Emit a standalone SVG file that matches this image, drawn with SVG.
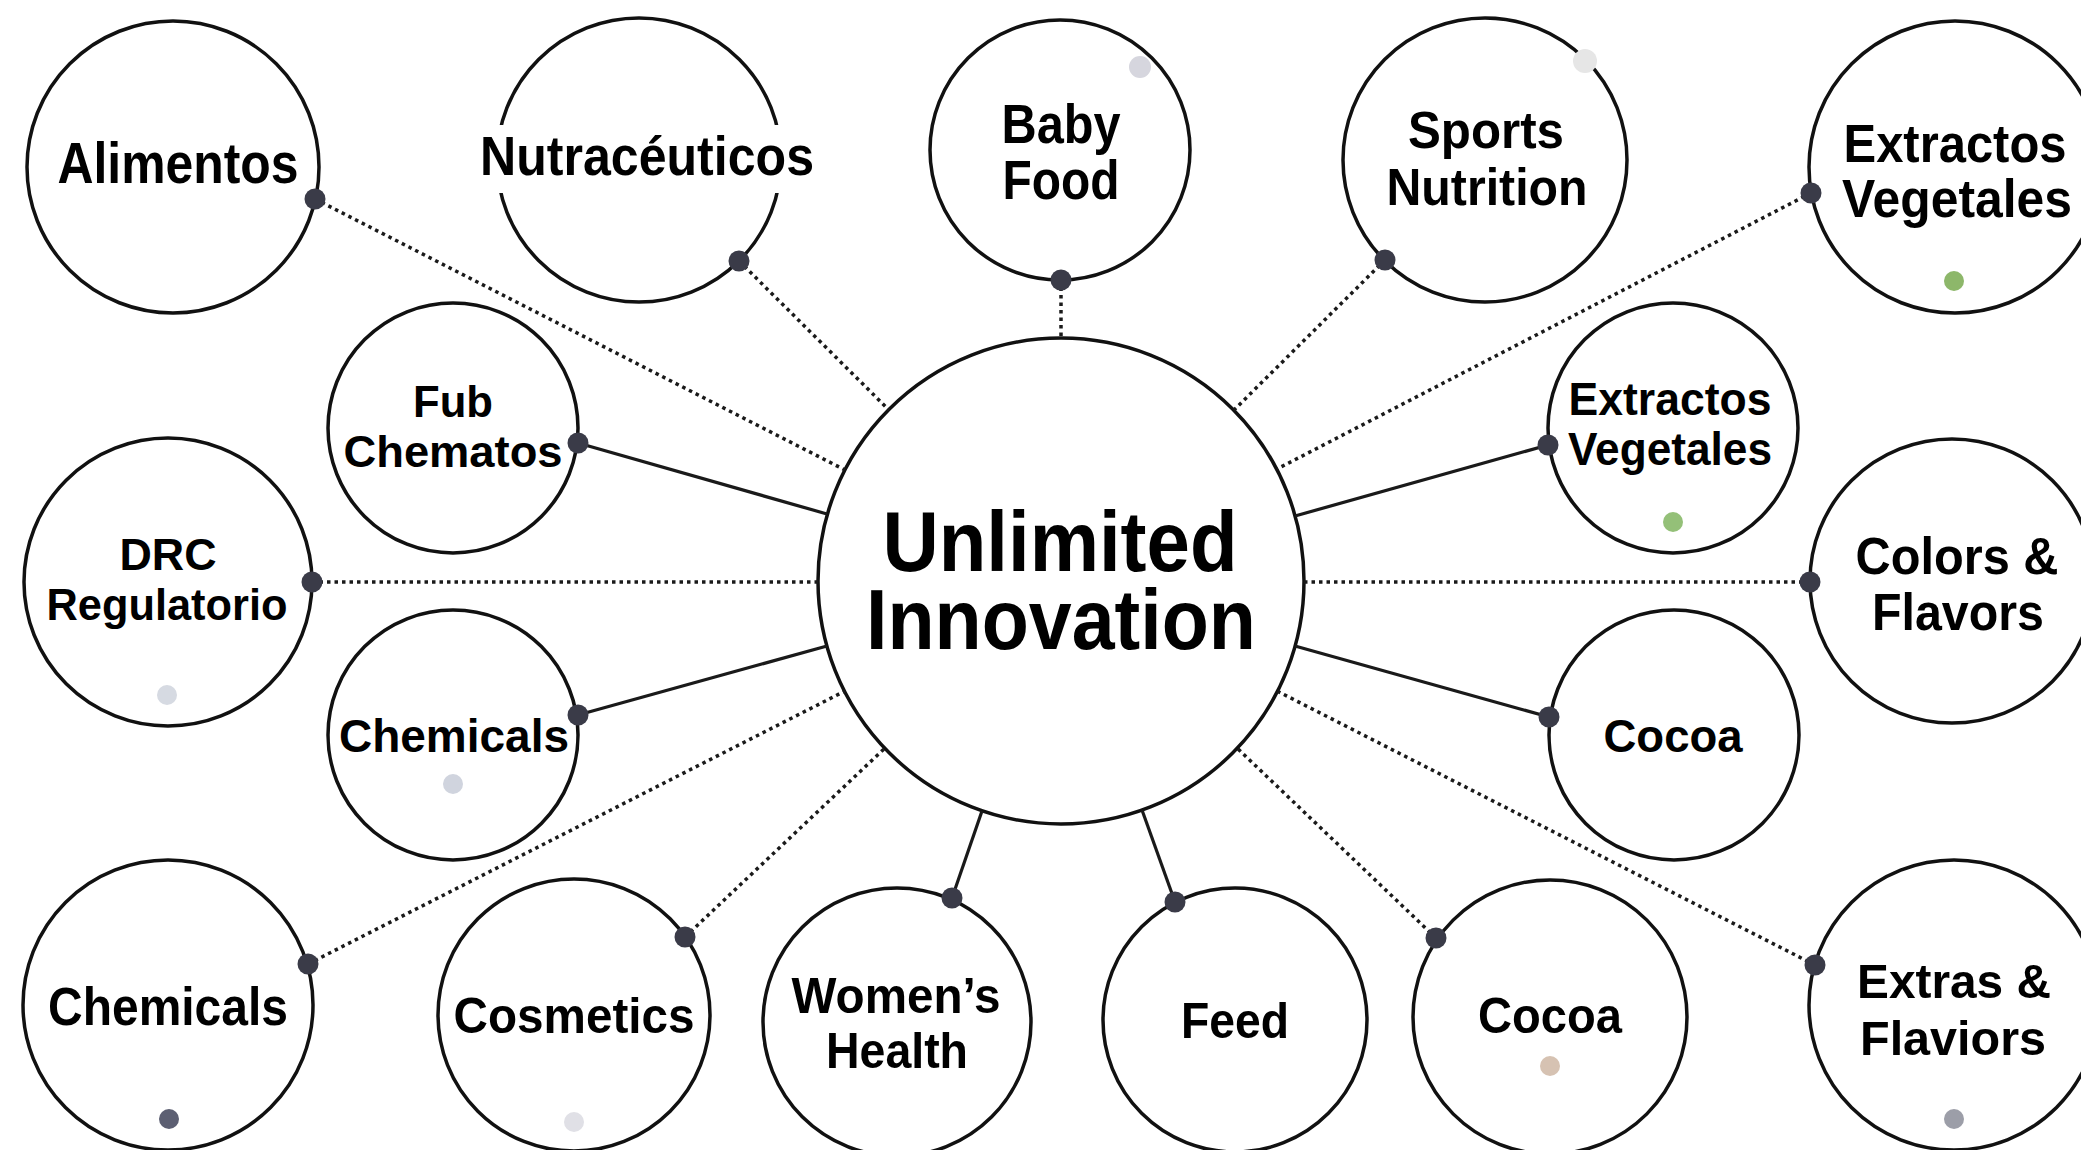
<svg xmlns="http://www.w3.org/2000/svg" width="2081" height="1150" viewBox="0 0 2081 1150">
<style>
.ring{fill:#fff;stroke:#111;stroke-width:3.5}
.lbl{font-family:"Liberation Sans",Arial,Helvetica,sans-serif;font-weight:bold;fill:#000;text-anchor:middle}
.dot{fill:#3a3b48}
.dash{stroke:#1a1a1a;stroke-width:3.5;stroke-dasharray:3.5 4;fill:none}
.solid{stroke:#1a1a1a;stroke-width:3.2;fill:none}
</style>
<rect width="2081" height="1150" fill="#fff"/>
<g id="nodes">
<g id="n-alimentos"><circle class="ring" cx="173" cy="167" r="146"/><text class="lbl" x="178" y="183" font-size="57" textLength="241" lengthAdjust="spacingAndGlyphs">Alimentos</text></g>
<g id="n-nutraceuticos"><circle class="ring" cx="639" cy="160" r="142"/><rect x="478" y="125" width="337" height="68" fill="#fff"/><text class="lbl" x="647" y="175" font-size="56" textLength="334" lengthAdjust="spacingAndGlyphs">Nutracéuticos</text></g>
<g id="n-babyfood"><circle class="ring" cx="1060" cy="150" r="130"/><circle cx="1140" cy="67" r="11" fill="#d6d6de"/><text class="lbl" font-size="56"><tspan x="1061" y="143" textLength="119" lengthAdjust="spacingAndGlyphs">Baby</tspan><tspan x="1061" y="199" textLength="117" lengthAdjust="spacingAndGlyphs">Food</tspan></text></g>
<g id="n-sports"><circle class="ring" cx="1485" cy="160" r="142"/><circle cx="1585" cy="61" r="12" fill="#e6e6e6"/><text class="lbl" font-size="52"><tspan x="1486" y="148" textLength="156" lengthAdjust="spacingAndGlyphs">Sports</tspan><tspan x="1487" y="205" textLength="201" lengthAdjust="spacingAndGlyphs">Nutrition</tspan></text></g>
<g id="n-extractos-top"><circle class="ring" cx="1955" cy="167" r="146"/><circle cx="1954" cy="281" r="10" fill="#8db76a"/><text class="lbl" font-size="54"><tspan x="1955" y="162" textLength="223" lengthAdjust="spacingAndGlyphs">Extractos</tspan><tspan x="1957" y="217" textLength="230" lengthAdjust="spacingAndGlyphs">Vegetales</tspan></text></g>
<g id="n-fub"><circle class="ring" cx="453" cy="428" r="125"/><text class="lbl" font-size="45"><tspan x="453" y="417" textLength="80" lengthAdjust="spacingAndGlyphs">Fub</tspan><tspan x="453" y="467" textLength="219" lengthAdjust="spacingAndGlyphs">Chematos</tspan></text></g>
<g id="n-drc"><circle class="ring" cx="168" cy="582" r="144"/><circle cx="167" cy="695" r="10" fill="#d6dae2"/><text class="lbl" font-size="45"><tspan x="168" y="570" textLength="97" lengthAdjust="spacingAndGlyphs">DRC</tspan><tspan x="167" y="620" textLength="241" lengthAdjust="spacingAndGlyphs">Regulatorio</tspan></text></g>
<g id="n-chemicals-mid"><circle class="ring" cx="453" cy="735" r="125"/><circle cx="453" cy="784" r="10" fill="#d0d4de"/><text class="lbl" x="454" y="752" font-size="47" textLength="230" lengthAdjust="spacingAndGlyphs">Chemicals</text></g>
<g id="n-center"><circle class="ring" cx="1061" cy="581" r="243"/><text class="lbl" font-size="85"><tspan x="1060" y="571" textLength="355" lengthAdjust="spacingAndGlyphs">Unlimited</tspan><tspan x="1061" y="649" textLength="390" lengthAdjust="spacingAndGlyphs">Innovation</tspan></text></g>
<g id="n-extractos-mid"><circle class="ring" cx="1673" cy="428" r="125"/><circle cx="1673" cy="522" r="10" fill="#94c078"/><text class="lbl" font-size="46"><tspan x="1670" y="415" textLength="203" lengthAdjust="spacingAndGlyphs">Extractos</tspan><tspan x="1670" y="465" textLength="204" lengthAdjust="spacingAndGlyphs">Vegetales</tspan></text></g>
<g id="n-colors"><circle class="ring" cx="1952" cy="581" r="142"/><text class="lbl" font-size="52"><tspan x="1957" y="574" textLength="203" lengthAdjust="spacingAndGlyphs">Colors &amp;</tspan><tspan x="1958" y="630" textLength="172" lengthAdjust="spacingAndGlyphs">Flavors</tspan></text></g>
<g id="n-cocoa-right"><circle class="ring" cx="1674" cy="735" r="125"/><text class="lbl" x="1673" y="752" font-size="47" textLength="139" lengthAdjust="spacingAndGlyphs">Cocoa</text></g>
<g id="n-chemicals-bottom"><circle class="ring" cx="168" cy="1005" r="145"/><circle cx="169" cy="1119" r="10" fill="#5c5f72"/><text class="lbl" x="168" y="1025" font-size="53" textLength="240" lengthAdjust="spacingAndGlyphs">Chemicals</text></g>
<g id="n-cosmetics"><circle class="ring" cx="574" cy="1015" r="136"/><circle cx="574" cy="1122" r="10" fill="#e0e0e6"/><text class="lbl" x="574" y="1033" font-size="50" textLength="241" lengthAdjust="spacingAndGlyphs">Cosmetics</text></g>
<g id="n-womens"><circle class="ring" cx="897" cy="1022" r="134"/><text class="lbl" font-size="50"><tspan x="896" y="1013" textLength="209" lengthAdjust="spacingAndGlyphs">Women’s</tspan><tspan x="897" y="1068" textLength="142" lengthAdjust="spacingAndGlyphs">Health</tspan></text></g>
<g id="n-feed"><circle class="ring" cx="1235" cy="1020" r="132"/><text class="lbl" x="1235" y="1038" font-size="50" textLength="108" lengthAdjust="spacingAndGlyphs">Feed</text></g>
<g id="n-cocoa-bottom"><circle class="ring" cx="1550" cy="1017" r="137"/><circle cx="1550" cy="1066" r="10" fill="#d6c2b2"/><text class="lbl" x="1550" y="1033" font-size="50" textLength="144" lengthAdjust="spacingAndGlyphs">Cocoa</text></g>
<g id="n-extras"><circle class="ring" cx="1954" cy="1005" r="145"/><circle cx="1954" cy="1119" r="10" fill="#9c9ea8"/><text class="lbl" font-size="49"><tspan x="1954" y="998" textLength="194" lengthAdjust="spacingAndGlyphs">Extras &amp;</tspan><tspan x="1953" y="1055" textLength="186" lengthAdjust="spacingAndGlyphs">Flaviors</tspan></text></g>
</g>
<g id="connectors">
<line class="dash" x1="315" y1="199" x2="845" y2="470"/>
<line class="dash" x1="739" y1="261" x2="889" y2="410"/>
<line class="dash" x1="1061" y1="280" x2="1061" y2="336"/>
<line class="dash" x1="1385" y1="260" x2="1234" y2="410"/>
<line class="dash" x1="1811" y1="193" x2="1277" y2="469"/>
<line class="solid" x1="1548" y1="445" x2="1295" y2="516"/>
<line class="dash" x1="1810" y1="582" x2="1304" y2="582"/>
<line class="solid" x1="1549" y1="717" x2="1295" y2="646"/>
<line class="dash" x1="1815" y1="965" x2="1277" y2="691"/>
<line class="dash" x1="1436" y1="938" x2="1237" y2="748"/>
<line class="solid" x1="1175" y1="902" x2="1142" y2="810"/>
<line class="solid" x1="952" y1="898" x2="982" y2="811"/>
<line class="dash" x1="685" y1="937" x2="885" y2="748"/>
<line class="dash" x1="308" y1="964" x2="845" y2="691"/>
<line class="solid" x1="578" y1="715" x2="827" y2="646"/>
<line class="dash" x1="312" y1="582" x2="818" y2="582"/>
<line class="solid" x1="578" y1="443" x2="827" y2="514"/>
<circle class="dot" cx="315" cy="199" r="10.5"/>
<circle class="dot" cx="739" cy="261" r="10.5"/>
<circle class="dot" cx="1061" cy="280" r="10.5"/>
<circle class="dot" cx="1385" cy="260" r="10.5"/>
<circle class="dot" cx="1811" cy="193" r="10.5"/>
<circle class="dot" cx="1548" cy="445" r="10.5"/>
<circle class="dot" cx="1810" cy="582" r="10.5"/>
<circle class="dot" cx="1549" cy="717" r="10.5"/>
<circle class="dot" cx="1815" cy="965" r="10.5"/>
<circle class="dot" cx="1436" cy="938" r="10.5"/>
<circle class="dot" cx="1175" cy="902" r="10.5"/>
<circle class="dot" cx="952" cy="898" r="10.5"/>
<circle class="dot" cx="685" cy="937" r="10.5"/>
<circle class="dot" cx="308" cy="964" r="10.5"/>
<circle class="dot" cx="578" cy="715" r="10.5"/>
<circle class="dot" cx="312" cy="582" r="10.5"/>
<circle class="dot" cx="578" cy="443" r="10.5"/>
</g>
</svg>
